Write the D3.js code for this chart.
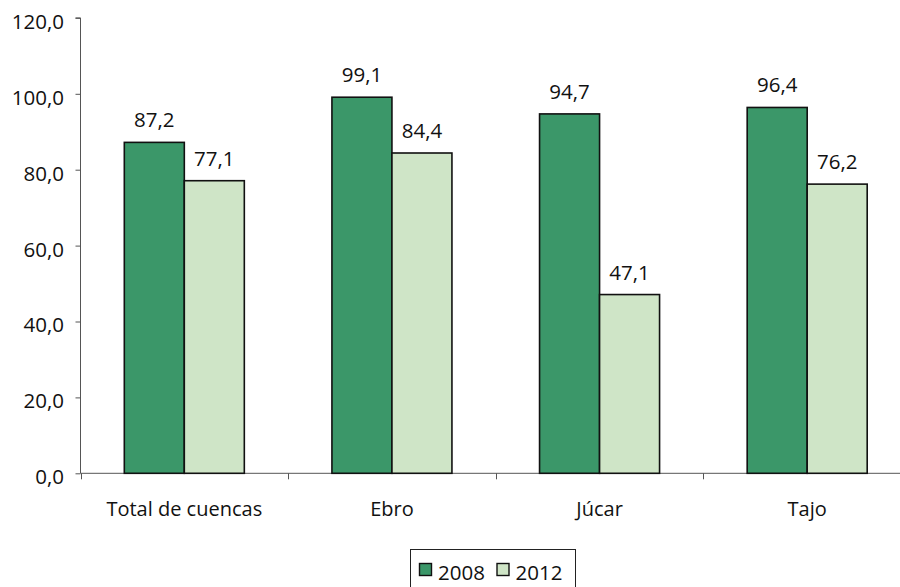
<!DOCTYPE html>
<html><head><meta charset="utf-8">
<script src="https://cdn.jsdelivr.net/npm/d3@7"></script>
<style>body{margin:0;background:#fff}svg{display:block}text{font-family:"Open Sans","DejaVu Sans",sans-serif;fill:#111}</style>
</head><body>
<script>
const categories = ["Total de cuencas", "Ebro", "Júcar", "Tajo"];
const seriesNames = ["2008", "2012"];
const values2008 = [87.2, 99.1, 94.7, 96.4];
const values2012 = [77.1, 84.4, 47.1, 76.2];
const yTicks = [0, 20, 40, 60, 80, 100, 120];
const colors = ["#3b9769", "#cfe5c7"];

const W = 900, H = 587;
const svg = d3.select("body").append("svg").attr("width", W).attr("height", H);
const x = d3.scaleBand().domain(categories).range([80.5, 911]).paddingInner(0).paddingOuter(0);
const y = d3.scaleLinear().domain([0, 120]).range([473.3, 17.9]);
const groupW = x.bandwidth() * 0.578;
const xs = d3.scaleBand().domain(seriesNames).range([0, groupW]);
const fmt = v => v.toFixed(1).replace(".", ",");

// y axis
const ya = svg.append("g").attr("transform", "translate(80.5,0)")
  .call(d3.axisLeft(y).tickValues(yTicks).tickSize(5).tickFormat(fmt));
ya.selectAll("path,line").attr("stroke", "#555").attr("stroke-width", 1);
ya.selectAll("text").attr("font-size", 20.5).attr("x", -16.5).attr("dy", "0.51em").style("font-family", "'Open Sans',sans-serif");
ya.select(".domain").attr("d", `M-5,${y(120)}H0V${y(0)}`);

// x axis
const xa = svg.append("g").attr("transform", `translate(0,${y(0)})`);
xa.append("line").attr("x1", 80.5).attr("x2", 911).attr("stroke", "#555");
const tickPos = [...categories.map(c => x(c)), x(categories[3]) + x.bandwidth()];
xa.selectAll(".tk").data(tickPos).join("line").attr("class", "tk")
  .attr("x1", d => Math.round(d) + 0.5).attr("x2", d => Math.round(d) + 0.5).attr("y1", 0).attr("y2", 6).attr("stroke", "#555");
xa.selectAll(".cl").data(categories).join("text").attr("class", "cl")
  .attr("x", d => x(d) + x.bandwidth() / 2).attr("y", 42.5).attr("text-anchor", "middle")
  .attr("font-size", 20).text(d => d);

const series = [values2008, values2012];
const data = [];
categories.forEach((c, i) => seriesNames.forEach((s, j) => data.push({c, s, j, v: series[j][i]})));
const gx = c => x(c) + (x.bandwidth() - groupW) / 2;

svg.selectAll(".bar").data(data).join("rect").attr("class", "bar")
  .attr("x", d => gx(d.c) + xs(d.s)).attr("width", xs.bandwidth())
  .attr("y", d => y(d.v)).attr("height", d => y(0) - y(d.v))
  .attr("fill", d => colors[d.j]).attr("stroke", "#111").attr("stroke-width", 1.6);

svg.selectAll(".vl").data(data).join("text").attr("class", "vl")
  .attr("x", d => gx(d.c) + xs(d.s) + xs.bandwidth() / 2).attr("y", d => y(d.v) - 15)
  .attr("text-anchor", "middle").attr("font-size", 20.5).text(d => fmt(d.v));

// legend
const lg = svg.append("g");
lg.append("rect").attr("x", 410.5).attr("y", 549.5).attr("width", 165).attr("height", 40)
  .attr("fill", "#fff").attr("stroke", "#222").attr("stroke-width", 1);
const items = [{n: seriesNames[0], x: 419}, {n: seriesNames[1], x: 496.5}];
items.forEach((it, j) => {
  lg.append("rect").attr("x", it.x + 0.5).attr("y", 563.5).attr("width", 12).attr("height", 12)
    .attr("fill", colors[j]).attr("stroke", "#111").attr("stroke-width", 1.4);
  lg.append("text").attr("x", it.x + 19).attr("y", 580).attr("font-size", 20.5).text(it.n);
});
</script>
</body></html>
